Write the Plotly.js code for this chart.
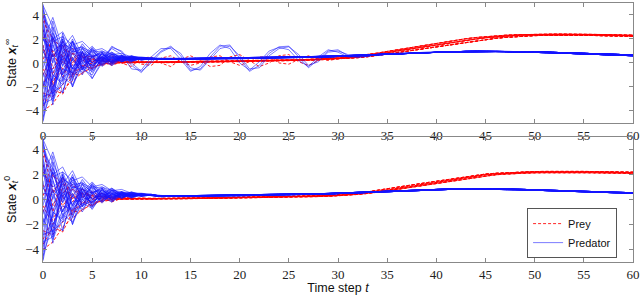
<!DOCTYPE html>
<html><head><meta charset="utf-8">
<script src="https://cdn.plot.ly/plotly-3.0.1.min.js"></script>
<style>body{margin:0;background:#fff}#g{width:640px;height:295px}</style>
</head><body><div id="g"></div>
<script>
// time steps
const T = Array.from({length: 61}, (_, i) => i);

// trajectory heads, t = 0..11 (shared initial transients)
const blueHeads = [
  [4.9, -1.5, 2.0, -0.5, 1.3, 0.0, 0.8, 0.2, 0.5, 0.3, 0.4, 0.35],
  [4.6, 0.5, 1.8, 0.9, 1.2, 0.6, 0.7, 0.4, 0.5, 0.35, 0.4, 0.35],
  [-4.8, 1.5, -1.0, 1.2, -0.2, 0.8, 0.1, 0.6, 0.2, 0.45, 0.3, 0.38],
  [-4.5, -2.0, -0.5, -0.8, 0.2, -0.2, 0.4, 0.1, 0.4, 0.3, 0.35, 0.33],
  [3.8, 2.5, 0.8, 1.5, 0.3, 1.0, 0.2, 0.7, 0.3, 0.5, 0.3, 0.4],
  [2.5, -2.8, 1.0, -1.2, 0.9, -0.5, 0.8, 0.0, 0.6, 0.2, 0.45, 0.3],
  [-3.0, 3.0, -1.5, 1.8, -0.6, 1.2, -0.1, 0.8, 0.1, 0.55, 0.25, 0.4],
  [1.5, -3.5, 1.8, -2.0, 0.6, -0.8, 0.4, -0.2, 0.5, 0.1, 0.4, 0.3],
  [-1.8, -0.5, 1.5, -1.5, 1.0, -0.6, 0.9, -0.1, 0.6, 0.15, 0.45, 0.32],
  [0.8, 2.2, -0.3, 1.8, 0.0, 1.3, 0.3, 0.9, 0.3, 0.6, 0.3, 0.42],
  [-2.2, 0.8, -2.5, 0.5, -1.0, 0.6, -0.3, 0.5, 0.1, 0.45, 0.25, 0.36],
  [3.2, 0.0, 2.2, 0.2, 1.6, 0.5, 1.0, 0.5, 0.6, 0.4, 0.45, 0.37],
  [-3.8, -1.2, 0.5, -2.0, 0.0, -0.6, 0.3, -0.1, 0.35, 0.2, 0.35, 0.32],
  [4.2, 1.5, -1.0, 0.8, -0.5, 0.6, -0.2, 0.5, 0.1, 0.4, 0.25, 0.35],
  [-0.5, 3.5, 0.2, 2.0, 0.1, 1.1, 0.2, 0.7, 0.3, 0.5, 0.35, 0.38],
  [0.2, -1.8, -2.5, 0.3, -0.8, 0.4, -0.2, 0.4, 0.1, 0.4, 0.25, 0.35],
  [2.0, 1.0, 1.6, 1.2, 1.3, 0.9, 1.0, 0.7, 0.6, 0.5, 0.45, 0.4],
  [-2.8, -2.5, -1.8, -1.0, -0.5, -0.1, 0.1, 0.2, 0.25, 0.3, 0.3, 0.33],
  [1.0, -0.8, 0.6, -0.4, 0.7, 0.0, 0.5, 0.2, 0.45, 0.3, 0.4, 0.35],
  [-1.2, 1.8, 2.2, 1.5, 1.8, 1.0, 1.2, 0.7, 0.8, 0.5, 0.5, 0.4],
  [4.8, 3.0, 1.0, 1.8, 0.5, 1.2, 0.4, 0.8, 0.4, 0.55, 0.4, 0.4],
  [-4.2, 0.3, 1.2, -0.5, 0.9, 0.0, 0.7, 0.2, 0.5, 0.3, 0.4, 0.35],
  [-3.4, -3.0, 0.8, -1.4, 0.6, -0.3, 0.5, 0.0, 0.4, 0.2, 0.35, 0.33],
  [2.8, -1.0, -1.6, 1.0, -0.4, 0.7, 0.0, 0.5, 0.2, 0.4, 0.3, 0.36],
  [-4.9, -1.0, -1.8, 0.4, -0.6, 0.5, -0.1, 0.4, 0.2, 0.35, 0.3, 0.34],
  [3.5, -2.2, 0.3, -0.9, 0.4, -0.3, 0.6, 0.1, 0.45, 0.25, 0.4, 0.34],
  [-2.0, 2.5, 0.0, 1.0, 0.8, 0.5, 0.9, 0.4, 0.6, 0.4, 0.45, 0.38],
  [1.8, 3.8, 1.2, 2.3, 0.6, 1.4, 0.5, 0.9, 0.4, 0.6, 0.4, 0.42],
  [-1.5, -3.2, -1.2, -1.8, -0.3, -0.7, 0.2, -0.2, 0.3, 0.15, 0.35, 0.3],
  [4.4, 2.0, 2.6, 1.0, 1.4, 0.4, 0.9, 0.3, 0.6, 0.3, 0.45, 0.36],
  [-3.6, 2.2, -0.2, 1.4, 0.2, 0.9, 0.3, 0.6, 0.35, 0.45, 0.35, 0.38],
  [0.5, 0.4, -1.2, -0.6, 0.5, -0.4, 0.5, 0.0, 0.45, 0.2, 0.4, 0.33],
  [3.0, -3.0, -0.8, -0.2, 0.0, 0.2, 0.2, 0.3, 0.3, 0.35, 0.35, 0.35],
  [-0.8, -2.6, 2.0, -0.8, 1.2, -0.2, 0.8, 0.1, 0.55, 0.25, 0.45, 0.33]
];
const redHeads = [
  [-4.0, -3.4, -2.2, -1.5, -0.8, -0.4, -0.1, 0.0, 0.05, 0.05, 0.05, 0.05],
  [3.5, 2.0, 1.2, 0.8, 0.5, 0.3, 0.2, 0.1, 0.1, 0.05, 0.05, 0.05],
  [-2.5, -2.8, -1.8, -0.9, -0.3, 0.0, 0.1, 0.1, 0.05, 0.05, 0.05, 0.05],
  [2.2, 1.0, 0.3, 0.8, 0.2, 0.4, 0.1, 0.2, 0.0, 0.1, 0.0, 0.05],
  [-1.0, 0.8, -0.5, 0.5, -0.3, 0.3, -0.1, 0.2, 0.0, 0.1, 0.05, 0.05],
  [1.2, -1.0, 1.5, -0.2, 0.8, 0.0, 0.5, 0.0, 0.3, 0.05, 0.1, 0.05],
  [-3.2, -1.5, -0.5, -1.2, -0.2, -0.5, 0.0, -0.1, 0.05, 0.0, 0.05, 0.05],
  [0.3, 2.0, 0.5, 1.2, 0.4, 0.6, 0.2, 0.3, 0.1, 0.1, 0.05, 0.05],
  [4.0, 0.5, 1.8, 0.0, 0.9, 0.1, 0.5, 0.05, 0.2, 0.05, 0.1, 0.05],
  [-0.5, -2.0, 0.2, -1.0, 0.3, -0.5, 0.2, -0.2, 0.1, 0.0, 0.05, 0.05],
  [-3.6, -2.2, -2.6, -1.0, -0.9, -0.2, -0.2, 0.0, 0.0, 0.05, 0.05, 0.05],
  [2.8, -0.5, 0.9, 0.1, 0.5, 0.1, 0.3, 0.05, 0.15, 0.05, 0.1, 0.05]
];

// top panel (x^inf) tails, t = 12..60
const topBlueTailA = [0.35,0.35,0.36,0.36,0.37,0.38,0.39,0.40,0.41,
  0.42,0.43,0.44,0.45,0.47,0.49,0.51,0.53,0.56,0.59,
  0.62,0.66,0.70,0.74,0.78,0.82,0.85,0.88,0.90,0.92,
  0.94,0.96,0.97,0.98,0.98,0.98,0.97,0.96,0.95,0.93,
  0.91,0.89,0.86,0.84,0.81,0.78,0.75,0.72,0.70,0.67];
const topBlueTailB = [0.30,0.31,0.31,0.32,0.33,0.34,0.34,0.35,0.36,
  0.37,0.38,0.39,0.40,0.42,0.44,0.46,0.48,0.51,0.54,
  0.58,0.62,0.66,0.70,0.74,0.78,0.81,0.84,0.87,0.89,
  0.91,0.93,0.94,0.95,0.95,0.95,0.94,0.93,0.91,0.89,
  0.87,0.84,0.81,0.78,0.75,0.72,0.69,0.66,0.63,0.60];
const topRedTailA = [0.05,0.06,0.07,0.08,0.09,0.10,0.11,0.12,0.13,
  0.14,0.15,0.17,0.19,0.21,0.23,0.26,0.29,0.32,0.36,
  0.42,0.50,0.60,0.72,0.86,1.00,1.13,1.25,1.36,1.46,
  1.60,1.74,1.88,2.00,2.10,2.18,2.25,2.30,2.33,2.35,
  2.36,2.37,2.37,2.37,2.36,2.35,2.33,2.31,2.29,2.27];
const topRedTailB = [0.02,0.03,0.04,0.05,0.06,0.07,0.08,0.09,0.10,
  0.11,0.12,0.14,0.16,0.18,0.20,0.23,0.26,0.29,0.32,
  0.37,0.44,0.52,0.62,0.74,0.86,0.98,1.10,1.22,1.33,
  1.45,1.58,1.71,1.84,1.95,2.05,2.13,2.20,2.25,2.28,
  2.30,2.31,2.31,2.31,2.30,2.29,2.27,2.25,2.23,2.21];
const topRedTailC = [0.08,0.09,0.10,0.11,0.12,0.13,0.14,0.15,0.16,
  0.17,0.18,0.20,0.22,0.24,0.27,0.30,0.33,0.37,0.42,
  0.49,0.58,0.69,0.82,0.96,1.10,1.24,1.37,1.50,1.62,
  1.76,1.90,2.02,2.12,2.20,2.26,2.31,2.35,2.38,2.40,
  2.41,2.41,2.41,2.41,2.40,2.39,2.38,2.36,2.34,2.32];

// top panel persistent oscillators, t = 0..33 (blue) and t = 0..31 (red)
const topBlueOsc = [
  [4.0, -2.5, 2.5, -1.0, 1.0, -1.3, 0.2, 1.4, 0.9, -0.2, -0.8, 0.2, 1.0, 1.4, 0.6, -0.6, -0.5, 0.5, 1.4, 1.5, 0.4, -0.7, -0.2, 0.8, 1.35, 1.4, 0.5, -0.4, 0.3, 1.0, 1.1, 0.6, 0.5, 0.55],
  [-3.5, 2.0, -0.8, 1.8, -0.5, -1.0, 0.5, 1.2, 0.7, -0.5, -0.6, 0.5, 1.2, 1.2, 0.3, -0.7, -0.3, 0.8, 1.5, 1.2, 0.0, -0.6, 0.1, 1.0, 1.3, 1.1, 0.2, -0.3, 0.5, 1.1, 0.9, 0.5, 0.5, 0.55],
  [2.0, 0.5, 1.5, -0.5, -0.3, -1.3, 0.0, 1.3, 1.0, 0.0, -0.7, 0.0, 0.9, 1.3, 0.8, -0.4, -0.6, 0.3, 1.2, 1.4, 0.6, -0.5, -0.4, 0.6, 1.2, 1.35, 0.7, -0.2, 0.1, 0.9, 1.0, 0.7, 0.5, 0.55]
];
const topRedOsc = [
  [-2.0, 1.0, -1.2, 0.8, -0.4, 0.5, -0.2, 0.6, 0.0, -0.3, 0.4, 0.5, 0.0, -0.3, 0.3, 0.6, 0.2, -0.3, -0.2, 0.5, 0.7, 0.2, -0.3, 0.0, 0.6, 0.7, 0.1, -0.2, 0.2, 0.5, 0.4, 0.42],
  [1.5, -1.8, 0.6, -0.9, 0.7, -0.2, 0.4, -0.1, 0.5, 0.4, -0.1, -0.2, 0.4, 0.6, 0.1, -0.2, 0.0, 0.5, 0.6, 0.1, -0.2, 0.1, 0.5, 0.5, 0.0, -0.1, 0.3, 0.6, 0.4, 0.2, 0.35, 0.42]
];

// bottom panel (x^0) tails, t = 12..60
const botBlueTailA = [0.27,0.28,0.28,0.29,0.30,0.31,0.32,0.33,0.34,
  0.35,0.36,0.37,0.38,0.40,0.42,0.44,0.46,0.48,0.51,
  0.54,0.57,0.61,0.65,0.69,0.73,0.76,0.79,0.81,0.83,
  0.85,0.86,0.87,0.87,0.87,0.86,0.84,0.82,0.80,0.77,
  0.75,0.72,0.70,0.67,0.65,0.62,0.60,0.58,0.56,0.54];
const botBlueTailB = [0.23,0.24,0.24,0.25,0.26,0.27,0.28,0.29,0.30,
  0.31,0.32,0.33,0.34,0.36,0.38,0.40,0.42,0.44,0.47,
  0.50,0.53,0.57,0.61,0.65,0.69,0.72,0.75,0.77,0.79,
  0.81,0.82,0.83,0.83,0.83,0.82,0.80,0.78,0.76,0.73,
  0.71,0.68,0.66,0.63,0.61,0.58,0.56,0.54,0.52,0.50];
const botRedTailA = [0.06,0.07,0.08,0.09,0.10,0.11,0.12,0.13,0.14,
  0.15,0.16,0.17,0.18,0.20,0.22,0.24,0.26,0.29,0.32,
  0.37,0.44,0.53,0.63,0.75,0.88,1.00,1.12,1.24,1.36,
  1.50,1.63,1.76,1.88,1.97,2.04,2.10,2.14,2.17,2.19,
  2.20,2.21,2.21,2.21,2.20,2.19,2.18,2.17,2.15,2.14];
const botRedTailB = [0.03,0.04,0.05,0.06,0.07,0.08,0.09,0.10,0.11,
  0.12,0.13,0.14,0.15,0.17,0.19,0.21,0.23,0.26,0.29,
  0.34,0.40,0.48,0.57,0.68,0.80,0.92,1.04,1.16,1.28,
  1.41,1.54,1.67,1.79,1.89,1.97,2.03,2.08,2.11,2.13,
  2.14,2.15,2.15,2.15,2.14,2.13,2.12,2.11,2.09,2.08];
const botRedTailC = [0.08,0.09,0.10,0.11,0.12,0.13,0.14,0.15,0.16,
  0.17,0.18,0.19,0.21,0.23,0.25,0.27,0.30,0.33,0.37,
  0.43,0.51,0.61,0.72,0.85,0.98,1.10,1.22,1.34,1.46,
  1.59,1.72,1.84,1.95,2.03,2.09,2.14,2.18,2.21,2.23,
  2.24,2.25,2.25,2.25,2.24,2.23,2.22,2.21,2.19,2.18];

const RED = 'rgb(255,0,0)', BLUE = 'rgb(20,20,255)';
const traces = [];
let preyLeg = false, predLeg = false;
function addTrace(y, ax, isPrey) {
  const show = isPrey ? !preyLeg : !predLeg;
  if (isPrey) preyLeg = true; else predLeg = true;
  traces.push({
    x: T, y: y, xaxis: ax === 1 ? 'x' : 'x2', yaxis: ax === 1 ? 'y' : 'y2',
    type: 'scatter', mode: 'lines',
    name: isPrey ? 'Prey' : 'Predator',
    legendgroup: isPrey ? 'prey' : 'pred',
    showlegend: show, hoverinfo: 'skip',
    opacity: isPrey ? 0.85 : 0.7,
    line: {color: isPrey ? RED : BLUE, width: isPrey ? 1 : 0.8, dash: isPrey ? '3px,2px' : 'solid'}
  });
}
// prey first (drawn underneath)
[[1, [topRedTailA, topRedTailB, topRedTailC]], [2, [botRedTailA, botRedTailB, botRedTailC]]].forEach(([ax, tails]) => {
  redHeads.forEach((h, i) => addTrace(h.concat(tails[i % 3]), ax, true));
});
topRedOsc.forEach((o, i) => addTrace(o.concat((i ? topRedTailB : topRedTailA).slice(20)), 1, true));
[[1, topBlueTailA, topBlueTailB], [2, botBlueTailA, botBlueTailB]].forEach(([ax, A, B]) => {
  blueHeads.forEach((h, i) => addTrace(h.concat(i % 2 ? B : A), ax, false));
});
topBlueOsc.forEach((o, i) => addTrace(o.concat((i % 2 ? topBlueTailB : topBlueTailA).slice(22)), 1, false));

const serif = 'Liberation Serif, DejaVu Serif, serif';
const sans = 'Liberation Sans, Arial, sans-serif';
function xax(domainAnchor, showTitle) {
  const a = {
    range: [0, 60], tickvals: [0,5,10,15,20,25,30,35,40,45,50,55,60],
    ticks: 'inside', ticklen: 4, tickcolor: '#888', tickwidth: 1,
    showline: true, linecolor: '#888', linewidth: 1.3, mirror: 'ticks',
    showgrid: false, zeroline: false, anchor: domainAnchor,
    tickfont: {family: serif, size: 13, color: '#222'}
  };
  if (showTitle) a.title = {text: 'Time step <i>t</i>', font: {family: sans, size: 12.5, color: '#111'}, standoff: 4};
  return a;
}
function yax(dom, anchor, titleText) {
  return {
    domain: dom, range: [-5, 5], tickvals: [-4, -2, 0, 2, 4],
    ticktext: ['−4', '−2', '0', '2', '4'],
    ticks: 'inside', ticklen: 4, tickcolor: '#888', tickwidth: 1,
    showline: true, linecolor: '#888', linewidth: 1.3, mirror: 'ticks',
    showgrid: false, zeroline: false, anchor: anchor,
    tickfont: {family: serif, size: 13, color: '#222'},
    title: {text: titleText, font: {family: sans, size: 12.5, color: '#111'}, standoff: 6}
  };
}
const layout = {
  width: 640, height: 295,
  margin: {l: 43, r: 7, t: 3, b: 33},
  paper_bgcolor: '#fff', plot_bgcolor: '#fff',
  showlegend: true,
  xaxis: xax('y', false),
  yaxis: yax([0.537, 1], 'x', 'State <b><i>x</i></b><sub><i>t</i></sub><sup>∞</sup>'),
  xaxis2: xax('y2', true),
  yaxis2: yax([0, 0.483], 'x2', 'State <b><i>x</i></b><sub><i>t</i></sub><sup>0</sup>'),
  legend: {
    x: 0.973, y: 0.015, xanchor: 'right', yanchor: 'bottom',
    bgcolor: '#fff', bordercolor: '#555', borderwidth: 1,
    font: {family: sans, size: 11, color: '#111'},
    tracegroupgap: 0, itemwidth: 30
  }
};
Plotly.newPlot('g', traces, layout, {staticPlot: true, displayModeBar: false});
</script></body></html>
